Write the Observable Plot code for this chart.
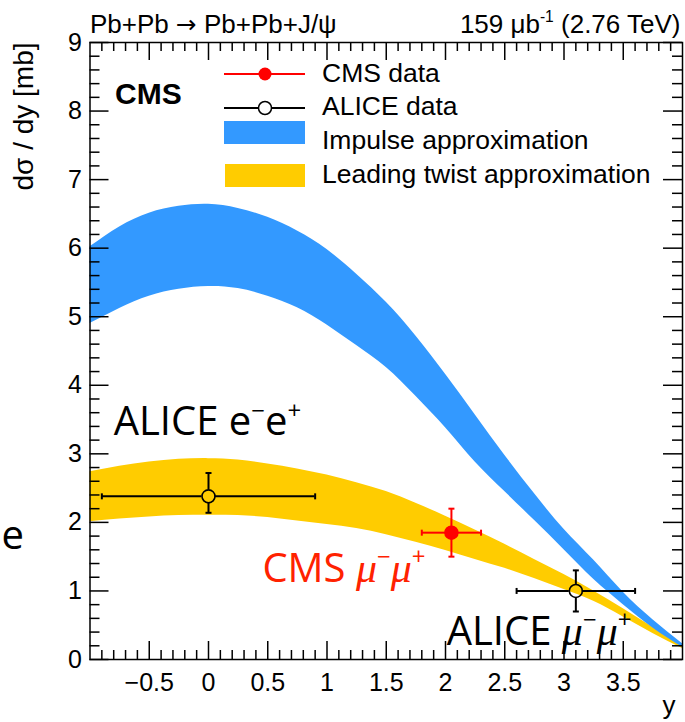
<!DOCTYPE html>
<html><head><meta charset="utf-8">
<script src="https://cdn.jsdelivr.net/npm/d3@7"></script>
<script src="https://cdn.jsdelivr.net/npm/@observablehq/plot@0.6"></script>
<style>
html,body{margin:0;padding:0;background:#fff;}
#chart{width:685px;height:722px;overflow:hidden;position:relative;}
svg{display:block;}
</style>
</head><body><div id="chart"></div>
<script>
// ---- data ----
const bandX       = [-1, -0.75, -0.5, -0.25, 0, 0.25, 0.5, 0.75, 1, 1.25, 1.5, 1.75, 2, 2.25, 2.5, 2.75, 3, 3.25, 3.5, 3.75, 4];
const impulseHigh = [6.02, 6.31, 6.51, 6.61, 6.64, 6.58, 6.45, 6.25, 5.98, 5.62, 5.21, 4.72, 4.16, 3.57, 2.98, 2.42, 1.90, 1.45, 0.98, 0.58, 0.23];
const impulseLow  = [4.90, 5.12, 5.30, 5.40, 5.44, 5.41, 5.30, 5.13, 4.88, 4.58, 4.26, 3.84, 3.38, 2.88, 2.45, 2.03, 1.60, 1.17, 0.80, 0.46, 0.18];
const twistHigh   = [2.74, 2.82, 2.88, 2.92, 2.93, 2.91, 2.85, 2.78, 2.69, 2.58, 2.45, 2.28, 2.09, 1.89, 1.68, 1.46, 1.24, 1.00, 0.74, 0.47, 0.20];
const twistLow    = [2.01, 2.05, 2.08, 2.10, 2.105, 2.10, 2.07, 2.02, 1.97, 1.91, 1.82, 1.71, 1.59, 1.46, 1.33, 1.18, 1.02, 0.85, 0.62, 0.38, 0.16];

const cmsX = [2.05], cmsY = [1.85], cmsXlo = [1.80], cmsXhi = [2.30], cmsYlo = [1.50], cmsYhi = [2.20];
const aliceX = [0, 3.1], aliceY = [2.38, 1.00], aliceXlo = [-0.9, 2.6], aliceXhi = [0.9, 3.6], aliceYlo = [2.14, 0.70], aliceYhi = [2.72, 1.30];

const xTicks = [-0.5, 0, 0.5, 1, 1.5, 2, 2.5, 3, 3.5];
const yTicks = [0, 1, 2, 3, 4, 5, 6, 7, 8, 9];

const titleLeft = "Pb+Pb ~{→} Pb+Pb+J/ψ";
const titleRight = "159 μb^{-1} (2.76 TeV)";
const yLabel = "dσ / dy [mb]";
const xLabel = "y";
const legendLabels = ["CMS data", "ALICE data", "Impulse approximation", "Leading twist approximation"];
const annosBlack = [
  {x: -0.80, y: 3.27, text: "ALICE e^{−}e^{+}"},
  {x: 2.01, y: 0.21, text: "ALICE *{μ}^{−}*{μ}^{+}"}
];
const annosRed = [
  {x: 0.455, y: 1.13, text: "CMS *{μ}^{−}*{μ}^{+}"}
];

// ---- layout ----
const W = 685, H = 722, mL = 89.5, mR = 3, mT = 42, mB = 63;
const innerW = W - mL - mR, innerH = H - mT - mB;
const BLUE = "#3399ff", YELLOW = "#ffcc00", RED = "#ff0000", ANNORED = "#ff2200";

const band = bandX.map((x, i) => ({x, iaLo: impulseLow[i], iaHi: impulseHigh[i], ltLo: twistLow[i], ltHi: twistHigh[i]}));
const cms = cmsX.map((x, i) => ({x, y: cmsY[i], xlo: cmsXlo[i], xhi: cmsXhi[i], ylo: cmsYlo[i], yhi: cmsYhi[i]}));
const alice = aliceX.map((x, i) => ({x, y: aliceY[i], xlo: aliceXlo[i], xhi: aliceXhi[i], ylo: aliceYlo[i], yhi: aliceYhi[i]}));

const xMinor = d3.range(-10, 41).filter(i => i % 5 !== 0).map(i => i / 10);
const yMinor = d3.range(0, 46).filter(i => i % 5 !== 0).map(i => i / 5);

const hcap = {draw(c, s) { const r = Math.sqrt(s / Math.PI); c.moveTo(-r, 0); c.lineTo(r, 0); }};
const vcap = {draw(c, s) { const r = Math.sqrt(s / Math.PI); c.moveTo(0, -r); c.lineTo(0, r); }};

function errs(data, color, r) {
  const o = {stroke: color, strokeWidth: 2};
  return [
    Plot.ruleX(data, {x: "x", y1: "yhi", y2: "y", insetBottom: r, ...o}),
    Plot.ruleX(data, {x: "x", y1: "y", y2: "ylo", insetTop: r, ...o}),
    Plot.ruleY(data, {y: "y", x1: "xlo", x2: "x", insetRight: r, ...o}),
    Plot.ruleY(data, {y: "y", x1: "x", x2: "xhi", insetLeft: r, ...o}),
    Plot.dot(data, {x: "x", y: "ylo", symbol: hcap, r: 3, fill: "none", ...o}),
    Plot.dot(data, {x: "x", y: "yhi", symbol: hcap, r: 3, fill: "none", ...o}),
    Plot.dot(data, {x: "xlo", y: "y", symbol: vcap, r: 3, fill: "none", ...o}),
    Plot.dot(data, {x: "xhi", y: "y", symbol: vcap, r: 3, fill: "none", ...o})
  ];
}

const sans = "'Liberation Sans', Arial, Helvetica, sans-serif";
const open = "'Open Sans', 'Noto Sans', sans-serif";
const fmt = d => (d < 0 ? "−" : "") + String(Math.abs(d));

const svg = Plot.plot({
  width: W, height: H,
  marginLeft: mL, marginRight: mR, marginTop: mT, marginBottom: mB,
  style: {fontFamily: sans, fontSize: "25px", background: "white", color: "black", overflow: "hidden"},
  x: {domain: [-1, 4]},
  y: {domain: [0, 9]},
  marks: [
    Plot.areaY(band, {x: "x", y1: "ltLo", y2: "ltHi", fill: YELLOW, curve: "natural"}),
    Plot.areaY(band, {x: "x", y1: "iaLo", y2: "iaHi", fill: BLUE, curve: "natural"}),
    ...errs(alice, "black", 6.5),
    ...errs(cms, RED, 0),
    Plot.dot(alice, {x: "x", y: "y", r: 6.5, fill: "none", stroke: "black", strokeWidth: 1.6}),
    Plot.dot(cms, {x: "x", y: "y", r: 6.5, fill: RED, stroke: RED}),
    // ticks (inward, ROOT style)
    Plot.tickX(xTicks, {x: d => d, insetTop: innerH - 18, stroke: "black", strokeWidth: 1.5}),
    Plot.tickX(xMinor, {x: d => d, insetTop: innerH - 9, stroke: "black", strokeWidth: 1.5}),
    Plot.tickX(xTicks, {x: d => d, insetBottom: innerH - 18, stroke: "black", strokeWidth: 1.5}),
    Plot.tickX(xMinor, {x: d => d, insetBottom: innerH - 9, stroke: "black", strokeWidth: 1.5}),
    Plot.tickY(yTicks, {y: d => d, insetRight: innerW - 19, stroke: "black", strokeWidth: 1.5}),
    Plot.tickY(yMinor, {y: d => d, insetRight: innerW - 10, stroke: "black", strokeWidth: 1.5}),
    Plot.tickY(yTicks, {y: d => d, insetLeft: innerW - 19, stroke: "black", strokeWidth: 1.5}),
    Plot.tickY(yMinor, {y: d => d, insetLeft: innerW - 10, stroke: "black", strokeWidth: 1.5}),
    Plot.frame({stroke: "black", strokeWidth: 1.5}),
    Plot.axisX({ticks: xTicks, tickSize: 0, tickPadding: 14, fontSize: 25, label: null, tickFormat: fmt}),
    Plot.axisY({ticks: yTicks, tickSize: 0, tickPadding: 8, fontSize: 25, label: null, tickFormat: fmt}),
    // titles and labels
    Plot.text([titleLeft], {text: d => d, frameAnchor: "top-left", textAnchor: "start", lineAnchor: "bottom", dy: -10, fontSize: 26}),
    Plot.text([titleRight], {text: d => d, frameAnchor: "top-right", textAnchor: "end", lineAnchor: "bottom", dx: -2, dy: -10, fontSize: 26}),
    Plot.text(["CMS"], {text: d => d, frameAnchor: "top-left", textAnchor: "start", lineAnchor: "middle", dx: 25, dy: 52, fontSize: 30, fontWeight: "bold"}),
    Plot.text([yLabel], {text: d => d, frameAnchor: "top-left", textAnchor: "end", lineAnchor: "middle", rotate: -90, dx: -66, dy: 0, fontSize: 28}),
    Plot.text([xLabel], {text: d => d, frameAnchor: "bottom-right", textAnchor: "end", lineAnchor: "bottom", dx: -7, dy: 54, fontSize: 26}),
    Plot.text(["e"], {text: d => d, frameAnchor: "bottom-left", textAnchor: "start", lineAnchor: "bottom", dx: -88.5, dy: -111, fontSize: 40, fontFamily: open}),
    // annotations
    Plot.text(annosBlack, {x: "x", y: "y", text: "text", textAnchor: "start", lineAnchor: "bottom", fontSize: 40, fontFamily: open, fill: "black"}),
    Plot.text(annosRed, {x: "x", y: "y", text: "text", textAnchor: "start", lineAnchor: "bottom", fontSize: 40, fontFamily: open, fill: ANNORED})
  ]
});

document.getElementById("chart").appendChild(svg);

// legend (inside the frame, top)
const lg = d3.select(svg).append("g").attr("font-family", sans).attr("font-size", 26.5).attr("text-anchor", "start");
const lx1 = 224, lx2 = 305, lxm = 265, ltx = 322;
lg.append("line").attr("x1", lx1).attr("x2", lx2).attr("y1", 74).attr("y2", 74).attr("stroke", RED).attr("stroke-width", 2);
lg.append("circle").attr("cx", lxm).attr("cy", 74).attr("r", 6.5).attr("fill", RED);
lg.append("line").attr("x1", lx1).attr("x2", lx2).attr("y1", 108).attr("y2", 108).attr("stroke", "black").attr("stroke-width", 2);
lg.append("circle").attr("cx", lxm).attr("cy", 108).attr("r", 6.5).attr("fill", "white").attr("stroke", "black").attr("stroke-width", 1.5);
lg.append("rect").attr("x", lx1).attr("y", 121).attr("width", lx2 - lx1).attr("height", 23).attr("fill", BLUE);
lg.append("rect").attr("x", lx1 + 1).attr("y", 164).attr("width", lx2 - lx1 - 1).attr("height", 23).attr("fill", YELLOW);
[82, 115, 149, 183].forEach((b, i) => lg.append("text").attr("x", ltx).attr("y", b).attr("fill", "black").text(legendLabels[i]));

// rich text: ^{..} superscript, *{..} italic serif, ~{..} DejaVu glyph
function richify(root) {
  d3.select(root).selectAll("text").each(function () {
    const s = this.textContent;
    if (!/[\^*~]\{/.test(s)) return;
    const fs = parseFloat(getComputedStyle(this).fontSize);
    const el = d3.select(this);
    el.text(null);
    const re = /([\^*~])\{([^}]*)\}/g;
    let last = 0, shift = 0, m;
    const add = (str, kind) => {
      const t = el.append("tspan").text(str);
      let target = 0;
      if (kind === "^") { t.attr("font-size", fs * 0.6); target = -0.42 * fs; }
      if (kind === "*") { t.attr("font-family", "'Liberation Serif', 'DejaVu Serif', serif").attr("font-style", "italic").attr("font-size", fs * 1.05); }
      if (kind === "~") { t.attr("font-family", "'DejaVu Sans', sans-serif").attr("font-size", fs * 0.95); }
      const d = target - shift;
      if (d) t.attr("dy", d);
      shift = target;
    };
    while ((m = re.exec(s))) {
      if (m.index > last) add(s.slice(last, m.index), "");
      add(m[2], m[1]);
      last = re.lastIndex;
    }
    if (last < s.length) add(s.slice(last), "");
  });
}
richify(svg);
</script>
</body></html>
